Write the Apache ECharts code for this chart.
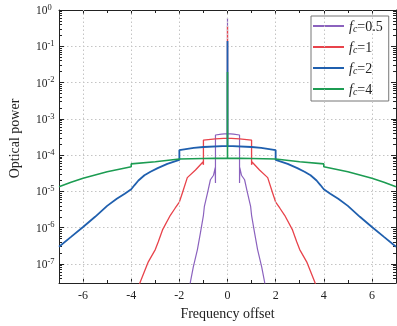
<!DOCTYPE html>
<html>
<head>
<meta charset="utf-8">
<script src="https://cdn.jsdelivr.net/npm/echarts@6/dist/echarts.min.js"></script>
<style>
  html, body { margin: 0; padding: 0; background: #fff; }
  #chart { width: 397px; height: 326px; }
</style>
</head>
<body>
<div id="chart"></div>
<script>
// Spectra of the four cases: frequency offset vs optical power
const seriesNames = ['fc=0.5', 'fc=1', 'fc=2', 'fc=4'];
const legendValues = ['0.5', '1', '2', '4'];
const seriesColors = ['#8b62be', '#e8434b', '#1f5fae', '#1c9c52'];
const seriesWidths = [1.2, 1.3, 1.8, 1.6];

const fc05Freq = [-1.6, -1.54, -1.42, -1.25, -1.125, -1.0, -0.96, -0.83, -0.71, -0.58, -0.51, -0.5, -0.5, -0.25, 0, 0, 0,
  0.25, 0.5, 0.5, 0.51, 0.58, 0.71, 0.83, 0.96, 1.0, 1.125, 1.25, 1.42, 1.54, 1.6];
const fc05Power = [1.8e-8, 3.2e-8, 8.3e-8, 2.5e-7, 7.2e-7, 2.2e-6, 3.9e-6, 9.1e-6, 2.1e-5, 2.8e-5, 4.5e-5, 1.7e-5, 3.6e-4, 3.8e-4, 3.9e-4, 0.6, 3.9e-4,
  3.8e-4, 3.6e-4, 1.7e-5, 4.5e-5, 2.8e-5, 2.1e-5, 9.1e-6, 3.9e-6, 2.2e-6, 7.2e-7, 2.5e-7, 8.3e-8, 3.2e-8, 1.8e-8];

const fc1Freq = [-3.75, -3.625, -3.29, -3.0, -2.875, -2.7, -2.375, -2.17, -2.0, -1.875, -1.67, -1.33, -1.02, -1.0, -1.0, -0.5, 0, 0, 0,
  0.5, 1.0, 1.0, 1.02, 1.33, 1.67, 1.875, 2.0, 2.17, 2.375, 2.7, 2.875, 3.0, 3.29, 3.625, 3.75];
const fc1Power = [1.8e-8, 3.2e-8, 1.15e-7, 2.5e-7, 4.1e-7, 8.7e-7, 2.2e-6, 3.5e-6, 5.1e-6, 9.1e-6, 2.4e-5, 3.9e-5, 6.5e-5, 5.4e-5, 2.6e-4, 2.8e-4, 2.95e-4, 0.36, 2.95e-4,
  2.8e-4, 2.6e-4, 5.4e-5, 6.5e-5, 3.9e-5, 2.4e-5, 9.1e-6, 5.1e-6, 3.5e-6, 2.2e-6, 8.7e-7, 4.1e-7, 2.5e-7, 1.15e-7, 3.2e-8, 1.8e-8];

const fc2Freq = [-7, -6.5, -6, -5.5, -5, -4.6, -4.27, -4, -3.86, -3.7, -3.45, -3.2, -2.9, -2.5, -2, -2, -1.4, -1, 0, 0, 0,
  1, 1.4, 2, 2, 2.5, 2.9, 3.2, 3.45, 3.7, 3.86, 4, 4.27, 4.6, 5, 5.5, 6, 6.5, 7];
const fc2Power = [3.0e-7, 5.6e-7, 1.05e-6, 2.0e-6, 4.0e-6, 6.3e-6, 8.7e-6, 1.15e-5, 1.5e-5, 2.0e-5, 2.8e-5, 3.5e-5, 4.4e-5, 5.75e-5, 7.4e-5, 1.38e-4, 1.58e-4, 1.68e-4, 1.8e-4, 0.14, 1.8e-4,
  1.68e-4, 1.58e-4, 1.38e-4, 7.4e-5, 5.75e-5, 4.4e-5, 3.5e-5, 2.8e-5, 2.0e-5, 1.5e-5, 1.15e-5, 8.7e-6, 6.3e-6, 4.0e-6, 2.0e-6, 1.05e-6, 5.6e-7, 3.0e-7];

const fc4Freq = [-7, -6.5, -6, -5, -4, -4, -3, -2, -1, 0, 0, 0, 1, 2, 3, 4, 4, 5, 6, 6.5, 7];
const fc4Power = [1.35e-5, 1.8e-5, 2.3e-5, 3.5e-5, 4.8e-5, 5.75e-5, 6.6e-5, 7.8e-5, 8.1e-5, 8.3e-5, 0.0195, 8.3e-5,
  8.1e-5, 7.8e-5, 6.6e-5, 5.75e-5, 4.8e-5, 3.5e-5, 2.3e-5, 1.8e-5, 1.35e-5];

// Axis ranges and tick labels
const xMin = -7, xMax = 7;
const xMajorTicks = [-6, -4, -2, 0, 2, 4, 6];
const xMinorTicks = [-5, -3, -1, 1, 3, 5];
const yMin = 3e-8, yMax = 1;

const freqs = [fc05Freq, fc1Freq, fc2Freq, fc4Freq];
const powers = [fc05Power, fc1Power, fc2Power, fc4Power];

const logMin = Math.log10(yMin);
// log-spaced minor tick positions (2..9 within each decade), in log10 units
const yMinorTicks = [];
for (let n = -8; n < 0; n++) {
  for (let k = 2; k <= 9; k++) {
    const v = n + Math.log10(k);
    if (v > logMin && v < 0) yMinorTicks.push(v);
  }
}

const serif = 'Liberation Serif';
const axisColor = '#222';

function decadeLabel(v) {
  const e = Math.log10(v);
  const r = Math.round(e);
  if (Math.abs(e - r) > 1e-6) return '';
  return '{b|10}{e|' + r + '}';
}

const series = seriesNames.map((name, i) => ({
  name: name,
  type: 'line',
  xAxisIndex: 0,
  yAxisIndex: 0,
  symbol: 'none',
  showSymbol: false,
  animation: false,
  color: seriesColors[i],
  lineStyle: { color: seriesColors[i], width: seriesWidths[i] },
  data: freqs[i].map((f, j) => [f, powers[i][j]]),
  z: 3 + i
}));

// dotted vertical grid lines at the labelled frequencies
series[0].markLine = {
  silent: true,
  symbol: ['none', 'none'],
  animation: false,
  label: { show: false },
  lineStyle: { color: '#c4c4c4', type: [1.5, 2.5], width: 1 },
  emphasis: { disabled: true },
  data: xMajorTicks.map(v => ({ xAxis: v }))
};

const chart = echarts.init(document.getElementById('chart'), null, { renderer: 'canvas' });

chart.setOption({
  backgroundColor: '#fff',
  animation: false,
  grid: { left: 59, right: 1, top: 10, bottom: 43, containLabel: false },
  legend: {
    orient: 'vertical',
    left: 311,
    top: 16,
    itemWidth: 31,
    itemHeight: 14,
    itemGap: 7,
    padding: [4, 6, 4, 1],
    borderColor: '#777',
    borderWidth: 1,
    borderRadius: 0,
    backgroundColor: '#fff',
    selectedMode: false,
    itemStyle: { opacity: 0, borderWidth: 0 },
    data: seriesNames,
    formatter: function (name) {
      const i = seriesNames.indexOf(name);
      return '{f|f}{c|c}{v|=' + legendValues[i] + '}';
    },
    textStyle: {
      fontFamily: serif,
      fontSize: 14,
      color: '#222',
      rich: {
        f: { fontFamily: serif, fontSize: 14, fontStyle: 'italic', lineHeight: 16, verticalAlign: 'bottom', color: '#222' },
        c: { fontFamily: serif, fontSize: 10, fontStyle: 'italic', lineHeight: 8, verticalAlign: 'bottom', color: '#222' },
        v: { fontFamily: serif, fontSize: 14, lineHeight: 16, verticalAlign: 'bottom', color: '#222' }
      }
    }
  },
  xAxis: [
    {
      type: 'value', position: 'bottom', min: xMin, max: xMax, interval: 1,
      axisLine: { show: true, onZero: false, lineStyle: { color: axisColor, width: 1 } },
      axisTick: { show: true, inside: true, length: 5, customValues: xMajorTicks, lineStyle: { color: axisColor } },
      axisLabel: {
        customValues: xMajorTicks, margin: 7, color: '#222',
        fontFamily: serif, fontSize: 12
      },
      splitLine: { show: false },
      name: 'Frequency offset', nameLocation: 'middle', nameGap: 24,
      nameTextStyle: { fontFamily: serif, fontSize: 14, color: '#222' }
    },
    {
      type: 'value', position: 'bottom', min: xMin, max: xMax, interval: 1,
      axisLine: { show: false, onZero: false },
      axisTick: { show: true, inside: true, length: 3, customValues: xMinorTicks, lineStyle: { color: axisColor } },
      axisLabel: { show: false }, splitLine: { show: false }
    },
    {
      type: 'value', position: 'top', min: xMin, max: xMax, interval: 1,
      axisLine: { show: true, onZero: false, lineStyle: { color: axisColor, width: 1 } },
      axisTick: { show: true, inside: true, length: 5, customValues: xMajorTicks, lineStyle: { color: axisColor } },
      axisLabel: { show: false }, splitLine: { show: false }
    },
    {
      type: 'value', position: 'top', min: xMin, max: xMax, interval: 1,
      axisLine: { show: false, onZero: false },
      axisTick: { show: true, inside: true, length: 3, customValues: xMinorTicks, lineStyle: { color: axisColor } },
      axisLabel: { show: false }, splitLine: { show: false }
    }
  ],
  yAxis: [
    {
      type: 'log', logBase: 10, position: 'left', min: yMin, max: yMax,
      axisLine: { show: true, onZero: false, lineStyle: { color: axisColor, width: 1 } },
      axisTick: { show: true, inside: true, length: 5, lineStyle: { color: axisColor } },
      axisLabel: {
        formatter: decadeLabel, align: 'left', margin: 23, color: '#222',
        showMinLabel: true, showMaxLabel: true,
        rich: {
          b: { fontFamily: serif, fontSize: 11.5, lineHeight: 14, verticalAlign: 'bottom', color: '#222' },
          e: { fontFamily: serif, fontSize: 8.5, lineHeight: 8, verticalAlign: 'top', color: '#222' }
        }
      },
      splitLine: { show: true, lineStyle: { color: '#c4c4c4', type: [1.5, 2.5], width: 1 } },
      name: 'Optical power', nameLocation: 'middle', nameGap: 37, nameRotate: 90,
      nameTextStyle: { fontFamily: serif, fontSize: 14, color: '#222', padding: [0, 0, 0, 16] }
    },
    {
      type: 'value', position: 'left', min: logMin, max: 0,
      axisLine: { show: false, onZero: false },
      axisTick: { show: true, inside: true, length: 3, customValues: yMinorTicks, lineStyle: { color: axisColor } },
      axisLabel: { show: false }, splitLine: { show: false }
    },
    {
      type: 'log', logBase: 10, position: 'right', min: yMin, max: yMax,
      axisLine: { show: true, onZero: false, lineStyle: { color: axisColor, width: 1 } },
      axisTick: { show: true, inside: true, length: 5, lineStyle: { color: axisColor } },
      axisLabel: { show: false }, splitLine: { show: false }
    },
    {
      type: 'value', position: 'right', min: logMin, max: 0,
      axisLine: { show: false, onZero: false },
      axisTick: { show: true, inside: true, length: 3, customValues: yMinorTicks, lineStyle: { color: axisColor } },
      axisLabel: { show: false }, splitLine: { show: false }
    }
  ],
  series: series
});
</script>
</body>
</html>
